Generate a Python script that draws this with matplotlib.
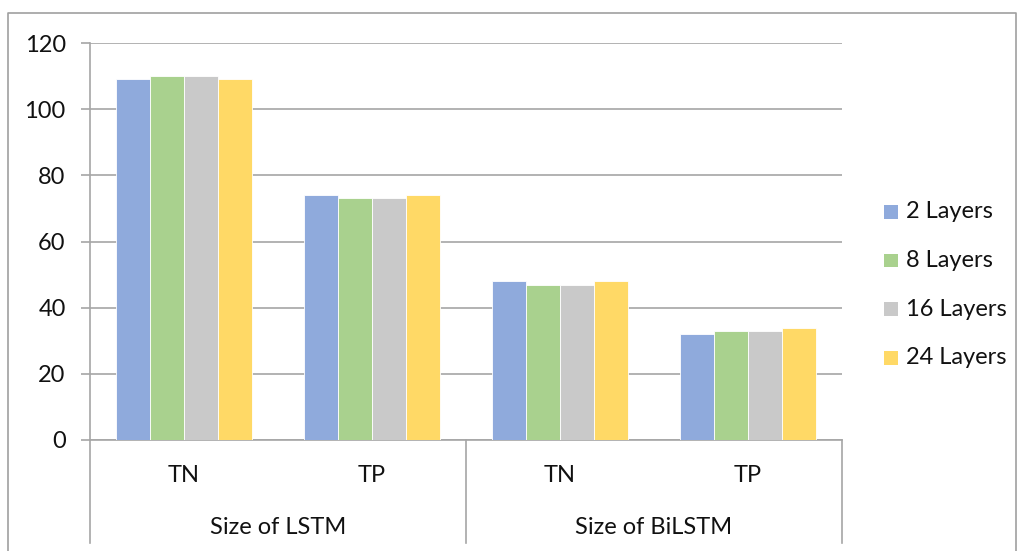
import matplotlib
matplotlib.use("Agg")
import matplotlib.pyplot as plt
from matplotlib.lines import Line2D
from matplotlib.patches import Rectangle
import numpy as np

plt.rcParams['font.family'] = ['Lato', 'DejaVu Sans']

# Data
groups = ["Size of LSTM", "Size of BiLSTM"]
categories = ["TN", "TP", "TN", "TP"]
series_names = ["2 Layers", "8 Layers", "16 Layers", "24 Layers"]
values_2 = [109, 74, 48, 32]
values_8 = [110, 73, 47, 33]
values_16 = [110, 73, 47, 33]
values_24 = [109, 74, 48, 34]
series_values = [values_2, values_8, values_16, values_24]
colors = ["#8FAADC", "#A9D18E", "#C9C9C9", "#FFD966"]
y_ticks = [0, 20, 40, 60, 80, 100, 120]

FS = 17
W, H = 1017, 551
fig = plt.figure(figsize=(W / 100, H / 100), dpi=100)

def fx(px):
    return px / W

def fy(py):
    return 1 - py / H

ax_left, ax_right, ax_top, ax_bottom = 90, 842, 43, 440
ax = fig.add_axes([fx(ax_left), fy(ax_bottom), fx(ax_right - ax_left), fy(ax_top) - fy(ax_bottom)])

grid_col = "#A6A6A6"
x = np.arange(len(categories))
bar_w = 34 / 188
for i, (name, vals, c) in enumerate(zip(series_names, series_values, colors)):
    ax.bar(x + (i - 1.5) * bar_w, vals, width=bar_w, color=c, edgecolor="white",
           linewidth=0.6, zorder=3, label=name)

ax.set_xlim(-0.5, len(categories) - 0.5)
ax.set_ylim(0, 120)
ax.set_yticks(y_ticks)
ax.set_yticklabels([str(t) for t in y_ticks], fontsize=FS, color="#111111")
ax.yaxis.grid(True, color=grid_col, linewidth=1.2, zorder=0)
ax.set_xticks([])
ax.tick_params(axis='y', length=6.5, width=1.2, color=grid_col, pad=11)
for s in ["top", "right"]:
    ax.spines[s].set_visible(False)
for s in ["left", "bottom"]:
    ax.spines[s].set_color(grid_col)
    ax.spines[s].set_linewidth(1.2)

# Multi-level category axis below the plot
def fig_line(xs, ys, lw=1.2, color=grid_col):
    fig.add_artist(Line2D([fx(v) for v in xs], [fy(v) for v in ys],
                          transform=fig.transFigure, color=color, linewidth=lw))

fig_line([ax_left, ax_left], [ax_bottom, 543])
fig_line([(ax_left + ax_right) / 2, (ax_left + ax_right) / 2], [ax_bottom, 543])
fig_line([ax_right, ax_right], [ax_bottom, 543])

for xi, cat in zip(x, categories):
    xd = ax.transData.transform((xi, 0))[0]
    fig.text(xd / W, fy(475), cat, ha="center", va="center", fontsize=FS, color="#111111")
for gi, g in enumerate(groups):
    xd = ax.transData.transform((gi * 2 + 0.5, 0))[0]
    fig.text(xd / W, fy(527), g, ha="center", va="center", fontsize=FS, color="#111111")

# Chart border
fig_line([8, 8, 1016, 1016], [H, 13, 13, H], lw=1.2, color="#A0A0A0")

# Legend
for i, (name, c) in enumerate(zip(series_names, colors)):
    cy = 212 + i * 48.5
    fig.add_artist(Rectangle((fx(884), fy(cy + 7)), fx(14), fy(cy - 7) - fy(cy + 7),
                             transform=fig.transFigure, facecolor=c, edgecolor="none"))
    fig.text(fx(906), fy(cy), name, ha="left", va="center", fontsize=FS, color="#111111")

fig.savefig("out.png", dpi=100)
